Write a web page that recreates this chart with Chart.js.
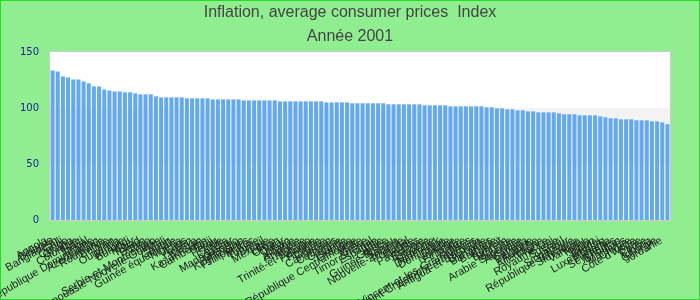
<!DOCTYPE html>
<html>
<head>
    <title>Inflation 2001</title>
    <script src="https://cdn.jsdelivr.net/npm/chart.js"></script>
    <style>
        body { margin: 0; background: #90EE90; }
        #wrap { width: 700px; height: 300px; }
    </style>
</head>
<body>
    <div id="wrap">
        <canvas id="barChart" width="700" height="300"></canvas>
    </div>

    <script>
        // pays (ordre décroissant)
        const countries = [
            'Angola', 'Bélarus', 'Bangladesh', 'Chili', 'Congo', 'Ghana', 'Colombie', 'Haïti', 'Népal', 'République Dominicaine',
            'Azerbaïdjan', 'Roumanie', 'Bolivie', 'Iran', 'Ouganda', 'Russie', 'Burundi', 'Niger', 'Tchad', 'Bénin',
            'Togo', 'Serbie-et-Monténégro', 'Papouasie-Nouvelle-Guinée', 'Mali', 'Gabon', 'Guinée équatoriale', 'Nigeria', 'Laos', 'Yémen', 'Kenya',
            'Kazakhstan', 'Cambodge', 'Fidji', 'Pérou', 'Inde', 'Égypte', 'Madagascar', 'Lesotho', 'Kirghizistan', 'Philippines',
            'Maroc', 'Tunisie', 'Brésil', 'Mexique', 'Libye', 'Oman', 'Qatar', 'Liban', 'Albanie', 'Arménie',
            'Algérie', 'Trinité-et-Tobago', 'Pologne', 'Hongrie', 'Croatie', 'Cameroun', 'Comores', 'Gambie', 'Islande', 'Lettonie',
            'République Centrafricaine', 'Malte', 'Grèce', 'Timor oriental', 'Espagne', 'Italie', 'Guinée', 'Guinée-Bissau', 'Samoa', 'Nouvelle-Zélande',
            'Portugal', 'Irlande', 'Pays-Bas', 'Estonie', 'Lituanie', 'Slovénie', 'Danemark', 'Dominique', 'Suède', 'Norvège',
            'Finlande', 'Belize', 'Saint-Vincent-et-les-Grenadines', 'Saint-Christophe-et-Niévès', 'Antigua-et-Barbuda', 'Grenade', 'Bahamas', 'Barbade', 'Koweït', 'Bahreïn',
            'Maurice', 'Arabie Saoudite', 'Australie', 'Canada', 'Belgique', 'Autriche', 'Allemagne', 'France', 'Royaume-Uni', 'Suisse',
            'Israël', 'Singapour', 'République Tchèque', 'Slovaquie', 'Vanuatu', 'Tonga', 'Japon', 'Brunei', 'Luxembourg', 'Panama',
            'Seychelles', 'Bhoutan', 'Maldives', 'Chypre', "Côte d'Ivoire", 'Syrie', 'Corée', 'Libéria', 'Géorgie', 'Jordanie'
        ];

        // indice 2001
        const values = [
            133.5, 132.6, 128.2, 127.3, 125.5, 125.5, 123.7, 122.0, 119.3, 119.3,
            116.6, 115.7, 114.8, 114.8, 114.0, 114.0, 113.1, 112.2, 112.2, 112.2,
            110.4, 109.5, 109.5, 109.5, 109.5, 109.5, 108.6, 108.6, 108.6, 108.6,
            108.6, 107.7, 107.7, 107.7, 107.7, 107.7, 107.7, 106.8, 106.8, 106.8,
            106.8, 106.8, 106.8, 106.8, 105.9, 105.9, 105.9, 105.9, 105.9, 105.9,
            105.9, 105.9, 105.9, 105.0, 105.0, 105.0, 105.0, 105.0, 104.2, 104.2,
            104.2, 104.2, 104.2, 104.2, 104.2, 103.3, 103.3, 103.3, 103.3, 103.3,
            103.3, 103.3, 102.4, 102.4, 102.4, 102.4, 102.4, 101.5, 101.5, 101.5,
            101.5, 101.5, 101.5, 101.5, 100.6, 100.6, 99.7, 99.7, 98.8, 98.8,
            97.9, 97.9, 97.0, 97.0, 96.1, 96.1, 96.1, 96.1, 95.3, 94.4,
            94.4, 94.4, 93.5, 93.5, 93.5, 93.5, 92.6, 91.7, 90.8, 90.8,
            89.9, 89.9, 89.9, 89.0, 89.0, 89.0, 88.1, 88.1, 87.2, 85.5
        ];

        const yTicks = [0, 50, 100, 150];
        const titleLines = ['Inflation, average consumer prices  Index', 'Année 2001'];

        // fond vert, zone blanche, bande grise 50-100, cadre
        const backgroundPlugin = {
            id: 'backgroundPlugin',
            beforeDraw(chart) {
                const c = chart.ctx;
                const a = chart.chartArea;
                const y = chart.scales.y;
                c.save();
                c.fillStyle = '#90EE90';
                c.fillRect(0, 0, chart.width, chart.height);
                c.fillStyle = '#ffffff';
                c.fillRect(a.left, a.top, a.right - a.left, a.bottom - a.top);
                c.fillStyle = '#f3f3f3';
                const y1 = y.getPixelForValue(yTicks[2]);
                const y0 = y.getPixelForValue(yTicks[1]);
                c.fillRect(a.left, y1, a.right - a.left, y0 - y1);
                c.strokeStyle = '#cccccc';
                c.lineWidth = 1;
                c.strokeRect(a.left - 0.5, a.top - 0.5, a.right - a.left + 1, a.bottom - a.top + 1);
                c.strokeStyle = '#22dd22';
                c.strokeRect(0.5, 0.5, chart.width - 1, chart.height - 1);
                c.restore();
            }
        };

        const ctx = document.getElementById('barChart').getContext('2d');
        const myChart = new Chart(ctx, {
            type: 'bar',
            data: {
                labels: countries,
                datasets: [{
                    label: 'Index',
                    data: values,
                    backgroundColor: '#63a9f1',
                    borderWidth: 0,
                    barPercentage: 0.78,
                    categoryPercentage: 1
                }]
            },
            options: {
                responsive: false,
                animation: false,
                plugins: {
                    legend: { display: false },
                    tooltip: { enabled: false },
                    title: {
                        display: true,
                        text: titleLines,
                        color: '#444444',
                        font: { family: 'Liberation Sans', size: 16, weight: 'normal', lineHeight: 1.5 },
                        padding: { top: 1, bottom: 3 }
                    }
                },
                scales: {
                    x: {
                        grid: { display: false, drawTicks: false },
                        border: { display: false },
                        ticks: {
                            autoSkip: false,
                            minRotation: 30,
                            maxRotation: 30,
                            padding: 14,
                            labelOffset: -6,
                            color: '#222222',
                            font: { family: 'Liberation Sans', size: 11 }
                        },
                        afterFit(scale) { scale.height = 80; }
                    },
                    y: {
                        min: 0,
                        max: 150,
                        grid: { display: false, drawTicks: false },
                        border: { display: false },
                        afterBuildTicks(scale) { scale.ticks = yTicks.map(v => ({ value: v })); },
                        ticks: {
                            padding: 11,
                            color: '#1a1a99',
                            font: { family: 'DejaVu Sans', size: 10 }
                        },
                        afterFit(scale) { scale.width = 50; }
                    },
                    // marge droite vide
                    yRight: {
                        position: 'right',
                        display: true,
                        grid: { display: false, drawTicks: false },
                        border: { display: false },
                        ticks: { display: false },
                        afterFit(scale) { scale.width = 30; }
                    }
                }
            },
            plugins: [backgroundPlugin]
        });
    </script>
</body>
</html>
